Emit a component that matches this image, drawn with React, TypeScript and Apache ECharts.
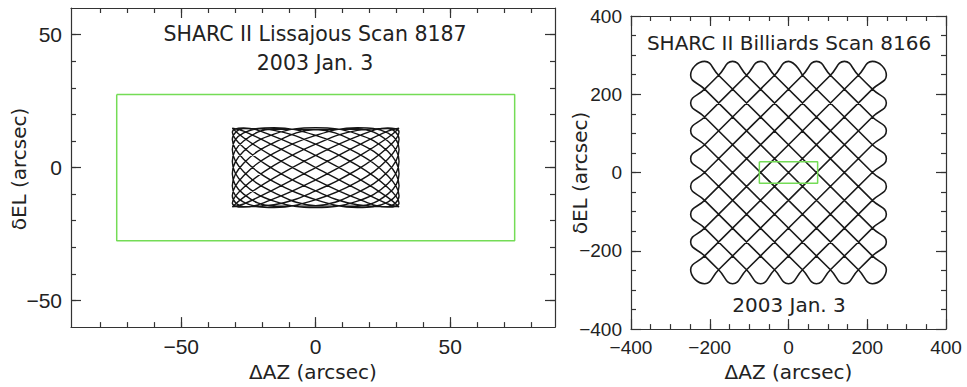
import React, { useEffect, useRef } from "react";
import * as echarts from "echarts";

// ---------- data (arcsec) ----------
// SHARC II Lissajous scan 8187 : path samples (ΔAZ, δEL)
const lissajousAz = [
  31, 26.8, 15.5, 0, -15.5, -26.8, -31, -26.8, -15.5, 0, 15.5, 26.8,
  31, 26.8, 15.5, 0, -15.5, -26.8, -31, -26.8, -15.5, 0, 15.5, 26.8,
  31, 26.8, 15.5, 0, -15.5, -26.8, -31, -26.8, -15.5, 0, 15.5, 26.8,
  31, 26.8, 15.5, 0, -15.5, -26.8, -31, -26.8, -15.5, 0, 15.5, 26.8,
  31, 26.8, 15.5, 0, -15.5, -26.8, -31, -26.8, -15.5, 0, 15.5, 26.8,
  31, 26.8, 15.5, 0, -15.5, -26.8, -31, -26.8, -15.5, 0, 15.5, 26.8,
  31, 26.8, 15.5, 0, -15.5, -26.8, -31, -26.8, -15.5, 0, 15.5, 26.8,
  31, 26.8, 15.5, 0, -15.5, -26.8, -31, -26.8, -15.5, 0, 15.5, 26.8,
  31, 26.8, 15.5, 0, -15.5, -26.8, -31, -26.8, -15.5, 0, 15.5, 26.8,
  31, 26.8, 15.5, 0, -15.5, -26.8, -31, -26.8, -15.5, 0, 15.5, 26.8,
  31,
];
const lissajousEl = [
  14.8, 11.2, 3.9, -4.6, -11.7, -14.9, -13.4, -7.5, 0.8, 8.8, 14.0, 14.7,
  10.6, 3.1, -5.4, -12.1, -15.0, -13.0, -6.8, 1.6, 9.4, 14.3, 14.5, 10.0,
  2.3, -6.1, -12.6, -15.0, -12.6, -6.1, 2.3, 10.0, 14.5, 14.3, 9.4, 1.6,
  -6.8, -13.0, -15.0, -12.1, -5.4, 3.1, 10.6, 14.7, 14.0, 8.8, 0.8, -7.5,
  -13.4, -14.9, -11.7, -4.6, 3.9, 11.2, 14.8, 13.7, 8.2, 0, -8.2, -13.7,
  -14.8, -11.2, -3.9, 4.6, 11.7, 14.9, 13.4, 7.5, -0.8, -8.8, -14.0, -14.7,
  -10.6, -3.1, 5.4, 12.1, 15.0, 13.0, 6.8, -1.6, -9.4, -14.3, -14.5, -10.0,
  -2.3, 6.1, 12.6, 15.0, 12.6, 6.1, -2.3, -10.0, -14.5, -14.3, -9.4, -1.6,
  6.8, 13.0, 15.0, 12.1, 5.4, -3.1, -10.6, -14.7, -14.0, -8.8, -0.8, 7.5,
  13.4, 14.9, 11.7, 4.6, -3.9, -11.2, -14.8, -13.7, -8.2, 0, 8.2, 13.7,
  14.8,
];

// SHARC II Billiards scan 8166 : turn points and edge crossings (ΔAZ, δEL)
const billiardsAz = [
  35.5, 213, 248.5, 213, -35.5, -71, -106.5, -213, -248.5, -213,
  106.5, 142, 177.5, 213, 248.5, 213, -177.5, -213, -248.5, -213, 213, 248.5,
  213, 177.5, -213, -248.5, -213, -177.5, -142, -106.5, 213, 248.5, 213, 106.5,
  71, 35.5, -213, -248.5, -213, -35.5, 0, 35.5, 213, 248.5, 213, -35.5,
  -71, -106.5, -213, -248.5, -213, 106.5, 142, 177.5, 213, 248.5, 213, -177.5,
  -213, -248.5, -213, 213, 248.5, 213, 177.5, -213, -248.5, -213, -177.5, -142,
  -106.5, 213, 248.5, 213, 106.5, 71, 35.5, -213, -248.5, -213, -35.5, 0,
  35.5,
];
const billiardsEl = [
  248.5, 71, 35.5, 0, -248.5, -284, -248.5, -142, -106.5, -71,
  248.5, 284, 248.5, 213, 177.5, 142, -248.5, -284, -248.5, -213, 213, 248.5,
  284, 248.5, -142, -177.5, -213, -248.5, -284, -248.5, 71, 106.5, 142, 248.5,
  284, 248.5, 0, -35.5, -71, -248.5, -284, -248.5, -71, -35.5, 0, 248.5,
  284, 248.5, 142, 106.5, 71, -248.5, -284, -248.5, -213, -177.5, -142, 248.5,
  284, 248.5, 213, -213, -248.5, -284, -248.5, 142, 177.5, 213, 248.5, 284,
  248.5, -71, -106.5, -142, -248.5, -284, -248.5, 0, 35.5, 71, 248.5, 284,
  248.5,
];

// SHARC II array footprint (green box)
const arrayAz = [-74, 74, 74, -74, -74];
const arrayEl = [27.5, 27.5, -27.5, -27.5, 27.5];

// tick values
const leftMajorAz = [-50, 0, 50];
const leftMinorAz = [-80, -70, -60, -50, -40, -30, -20, -10, 0, 10, 20, 30, 40, 50, 60, 70, 80];
const leftMajorEl = [-50, 0, 50];
const leftMinorEl = [-50, -40, -30, -20, -10, 0, 10, 20, 30, 40, 50];
const rightMajor = [-400, -200, 0, 200, 400];
const rightMinor = [-350, -300, -250, -200, -150, -100, -50, 0, 50, 100, 150, 200, 250, 300, 350];

const zip = (a: number[], b: number[]) => a.map((v, i) => [v, b[i]]);

const TXT = "#222";
const GREEN = "#74dc56";
const TICK_FONT = "Liberation Sans";
const NAME_FONT = "DejaVu Sans";

function axisSet(
  kind: "x" | "y",
  gridIndex: number,
  min: number,
  max: number,
  major: number[],
  minor: number[],
  name: string,
  nameGap: number,
  labelSize: number
) {
  const line = { color: "#333", width: 1.2 };
  const common = {
    type: "value",
    gridIndex,
    min,
    max,
    splitLine: { show: false },
  };
  const p1 = kind === "x" ? "bottom" : "left";
  const p2 = kind === "x" ? "top" : "right";
  const named =
    kind === "x"
      ? {
          name,
          nameLocation: "middle",
          nameGap,
          nameTextStyle: { fontSize: 20, fontFamily: NAME_FONT, color: TXT },
        }
      : {};
  return [
    {
      ...common,
      ...named,
      position: p1,
      axisLine: { show: true, onZero: false, lineStyle: line },
      axisTick: { show: true, inside: true, length: 10, customValues: major, lineStyle: line },
      axisLabel: {
        show: true,
        customValues: major,
        margin: 9,
        fontSize: labelSize,
        fontFamily: TICK_FONT,
        color: TXT,
        formatter: (v: number) => String(v).replace("-", "\u2212"),
      },
    },
    {
      ...common,
      position: p1,
      axisLine: { show: false, onZero: false },
      axisTick: { show: true, inside: true, length: 5, customValues: minor, lineStyle: line },
      axisLabel: { show: false },
    },
    {
      ...common,
      position: p2,
      axisLine: { show: true, onZero: false, lineStyle: line },
      axisTick: { show: true, inside: true, length: 10, customValues: major, lineStyle: line },
      axisLabel: { show: false },
    },
    {
      ...common,
      position: p2,
      axisLine: { show: false, onZero: false },
      axisTick: { show: true, inside: true, length: 5, customValues: minor, lineStyle: line },
      axisLabel: { show: false },
    },
  ];
}

function text(t: string, x: number, y: number, size: number, rotation = 0) {
  return {
    type: "text",
    x,
    y,
    rotation,
    silent: true,
    style: {
      text: t,
      align: "center",
      verticalAlign: "middle",
      fontSize: size,
      fontFamily: NAME_FONT,
      fill: TXT,
    },
  };
}

export default function App() {
  const ref = useRef<HTMLDivElement>(null);

  useEffect(() => {
    document.body.style.margin = "0";
    if (!ref.current) return;
    const chart = echarts.init(ref.current, undefined, { renderer: "svg" });

    const option: any = {
      animation: false,
      backgroundColor: "#ffffff",
      grid: [
        { left: 71, top: 8, width: 484, height: 322 },
        { left: 631, top: 16, width: 315, height: 315 },
      ],
      xAxis: [
        ...axisSet("x", 0, -91, 89, leftMajorAz, leftMinorAz, "\u0394AZ (arcsec)", 32, 21),
        ...axisSet("x", 1, -400, 400, rightMajor, rightMinor, "\u0394AZ (arcsec)", 32, 19),
      ],
      yAxis: [
        ...axisSet("y", 0, -60, 60, leftMajorEl, leftMinorEl, "", 0, 21),
        ...axisSet("y", 1, -400, 400, rightMajor, rightMinor, "", 0, 19),
      ],
      series: [
        {
          name: "Lissajous scan 8187",
          type: "line",
          xAxisIndex: 0,
          yAxisIndex: 0,
          data: zip(lissajousAz, lissajousEl),
          smooth: 0.4,
          symbol: "none",
          lineStyle: { color: "#151515", width: 1.4 },
          z: 2,
        },
        {
          name: "Array footprint",
          type: "line",
          xAxisIndex: 0,
          yAxisIndex: 0,
          data: zip(arrayAz, arrayEl),
          symbol: "none",
          lineStyle: { color: GREEN, width: 1.5 },
          z: 3,
        },
        {
          name: "Billiards scan 8166",
          type: "line",
          xAxisIndex: 4,
          yAxisIndex: 4,
          data: zip(billiardsAz, billiardsEl),
          smooth: 0.5,
          symbol: "none",
          lineStyle: { color: "#1a1a1a", width: 1.6 },
          z: 2,
        },
        {
          name: "Array footprint (billiards)",
          type: "line",
          xAxisIndex: 4,
          yAxisIndex: 4,
          data: zip(arrayAz, arrayEl),
          symbol: "none",
          lineStyle: { color: GREEN, width: 1.5 },
          z: 3,
        },
      ],
      graphic: [
        text("SHARC II Lissajous Scan 8187", 315, 34, 20.5),
        text("2003 Jan. 3", 315, 63, 20.5),
        text("SHARC II Billiards Scan 8166", 789, 43, 20),
        text("2003 Jan. 3", 789, 305, 20),
        text("\u03B4EL (arcsec)", 19, 169, 20, Math.PI / 2),
        text("\u03B4EL (arcsec)", 580, 173, 20, Math.PI / 2),
      ],
    };

    chart.setOption(option);
    return () => chart.dispose();
  }, []);

  return <div ref={ref} style={{ width: 967, height: 387 }} />;
}
